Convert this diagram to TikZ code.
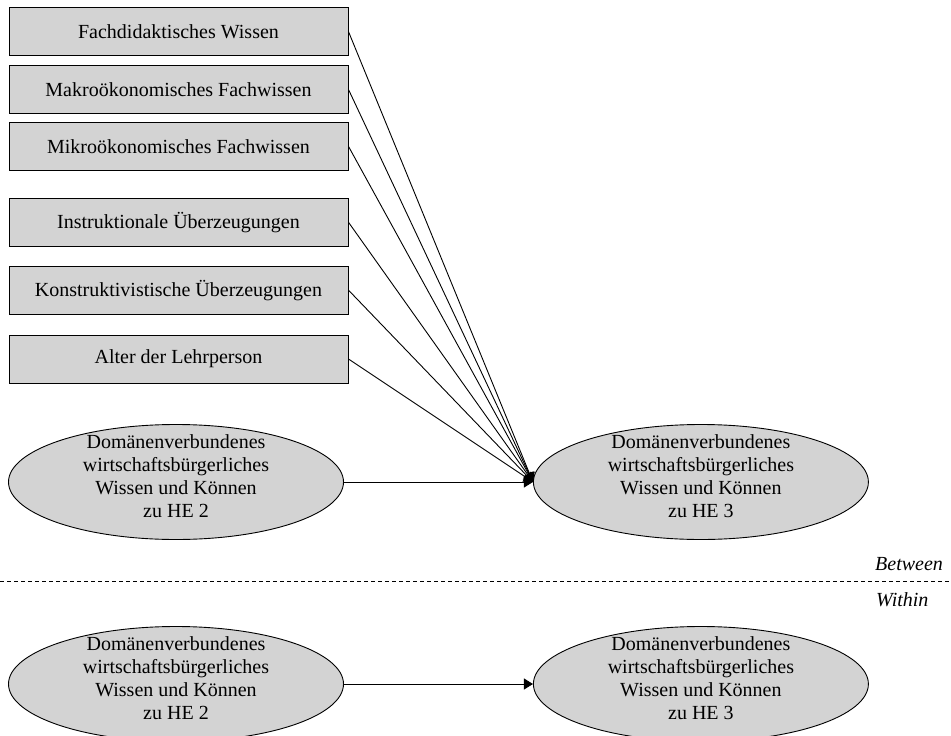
\documentclass[tikz,border=0pt]{standalone}
\usepackage{fontspec}
\setmainfont{Liberation Serif}
\usetikzlibrary{positioning, shapes.geometric, arrows.meta}
\definecolor{boxgray}{RGB}{211,211,211}
\tikzset{
  >={Triangle[length=9pt, width=11pt]},
  every node/.style={font=\fontsize{20}{23}\selectfont},
  factor/.style={draw, line width=0.9pt, fill=boxgray, minimum width=339pt, minimum height=48pt, inner sep=0pt},
  latent/.style={ellipse, draw, line width=0.9pt, fill=boxgray, align=center, minimum width=335pt, minimum height=115pt, inner xsep=0pt, inner ysep=-10pt, text depth=11pt},
  path/.style={->, line width=0.9pt},
  level/.style={font=\fontsize{20}{23}\selectfont\itshape, inner sep=0pt},
}

\begin{document}
\begin{tikzpicture}[x=1pt, y=-1pt]
  \useasboundingbox (0,0) rectangle (951,736);
  % predictors
  \node[factor] (fw) at (178.5,31.5) {Fachdidaktisches Wissen};
  \node[factor, below=9pt of fw] (mak) {Makroökonomisches Fachwissen};
  \node[factor, below=8pt of mak] (mik) {Mikroökonomisches Fachwissen};
  \node[factor, below=27pt of mik] (ins) {Instruktionale Überzeugungen};
  \node[factor, below=19pt of ins] (kon) {Konstruktivistische Überzeugungen};
  \node[factor, below=20pt of kon] (alt) {Alter der Lehrperson};

  % between level
  \node[latent] (he2) at (176,482) {Domänenverbundenes\\wirtschaftsbürgerliches\\Wissen und Können\\zu HE 2};
  \node[latent, right=189pt of he2] (he3) {Domänenverbundenes\\wirtschaftsbürgerliches\\Wissen und Können\\zu HE 3};

  % within level
  \node[latent] (w2) at (176,684) {Domänenverbundenes\\wirtschaftsbürgerliches\\Wissen und Können\\zu HE 2};
  \node[latent, right=189pt of w2] (w3) {Domänenverbundenes\\wirtschaftsbürgerliches\\Wissen und Können\\zu HE 3};

  % paths
  \foreach \src in {fw,mak,mik,ins,kon,alt}
    \draw[path] (\src.east) -- (he3.west);
  \draw[path] (he2) -- (he3);
  \draw[path] (w2) -- (w3);

  % level separator
  \coordinate (sepl) at (0,581);
  \coordinate (sepr) at (951,581);
  \draw[dashed, line width=0.8pt, dash pattern=on 4pt off 3pt] (sepl) -- (sepr);
  \node[level, anchor=west] (betw) at (875,564) {Between};
  \node[level, anchor=west] (with) at (876,600) {Within};
\end{tikzpicture}
\end{document}
